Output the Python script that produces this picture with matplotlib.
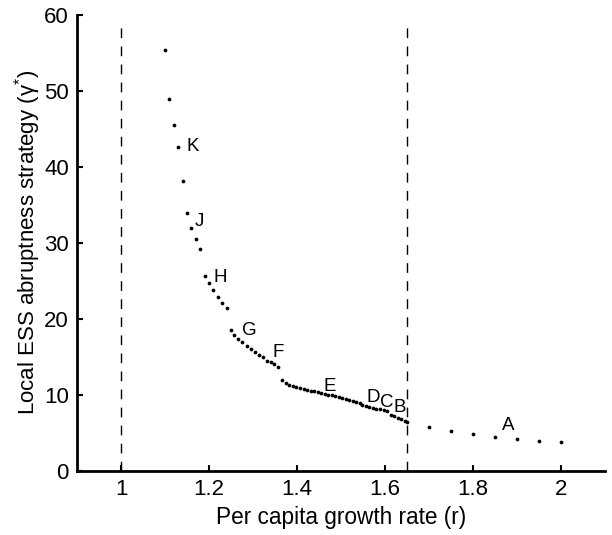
import matplotlib.pyplot as plt

plt.rcParams['font.family'] = ['Liberation Sans', 'DejaVu Sans']
plt.rcParams['mathtext.fontset'] = 'custom'
plt.rcParams['mathtext.rm'] = 'Liberation Sans'
plt.rcParams['mathtext.it'] = 'Liberation Sans'

## growth rate r and local ESS strategy
r = [1.10, 1.11, 1.12, 1.13, 1.14, 1.15, 1.16, 1.17, 1.18, 1.19, 1.20, 1.21, 1.22, 1.23, 1.24,
     1.249, 1.258, 1.267, 1.276, 1.286, 1.295, 1.305, 1.314, 1.323, 1.333, 1.340, 1.348, 1.356,
     1.367, 1.375, 1.383, 1.391, 1.399, 1.407, 1.415, 1.423, 1.431, 1.439, 1.447, 1.455, 1.463,
     1.471, 1.479, 1.487, 1.495, 1.503, 1.511, 1.519, 1.527, 1.535, 1.543,
     1.549, 1.557, 1.565, 1.573, 1.581, 1.589, 1.597, 1.605,
     1.613, 1.621, 1.629, 1.637, 1.645, 1.650,
     1.70, 1.75, 1.80, 1.85, 1.90, 1.95, 2.00]
gamma = [55.4, 48.9, 45.5, 42.6, 38.1, 33.9, 32.0, 30.5, 29.2, 25.7, 24.7, 23.8, 22.9, 22.1, 21.4,
         18.55, 17.9, 17.4, 16.9, 16.45, 16.05, 15.66, 15.3, 14.96, 14.5, 14.3, 14.0, 13.6,
         11.9, 11.55, 11.35, 11.2, 11.05, 10.9, 10.78, 10.66, 10.55, 10.44, 10.33, 10.22, 10.12,
         10.02, 9.92, 9.82, 9.72, 9.6, 9.48, 9.36, 9.22, 9.08, 8.95,
         8.6, 8.5, 8.4, 8.3, 8.2, 8.1, 8.0, 7.85,
         7.4, 7.2, 7.0, 6.8, 6.5, 6.36,
         5.7, 5.2, 4.87, 4.5, 4.2, 3.95, 3.77]

labels = ['K', 'J', 'H', 'G', 'F', 'E', 'D', 'C', 'B', 'A']
label_r = [1.148, 1.168, 1.211, 1.274, 1.345, 1.461, 1.559, 1.590, 1.620, 1.867]
label_g = [42.7, 32.8, 25.5, 18.5, 15.6, 11.1, 9.7, 9.0, 8.3, 5.9]

bounds = [1.0, 1.65]

fig = plt.figure(figsize=(6.12, 5.35), dpi=100)
ax = fig.add_axes([0.126, 0.12, 0.862, 0.852])

for b in bounds:
    ax.plot([b, b], [0, 58.7], color='k', lw=1, dashes=(7, 6))
ax.plot(r, gamma, 'o', color='k', ms=2.7, mec='none')

for lab, x, y in zip(labels, label_r, label_g):
    ax.text(x, y, lab, fontsize=13.5, ha='left', va='center')

ax.set_xlim(0.9, 2.1)
ax.set_ylim(0, 60)
ax.set_xticks([1, 1.2, 1.4, 1.6, 1.8, 2])
ax.set_xticklabels(['1', '1.2', '1.4', '1.6', '1.8', '2'])
ax.set_yticks([0, 10, 20, 30, 40, 50, 60])
ax.tick_params(direction='in', length=4, width=1.5, labelsize=16, pad=6)
ax.spines['top'].set_visible(False)
ax.spines['right'].set_visible(False)
ax.spines['left'].set_linewidth(2)
ax.spines['bottom'].set_linewidth(2)
ax.set_xlabel('Per capita growth rate (r)', fontsize=16.3, labelpad=4)
ax.set_ylabel('Local ESS abruptness strategy (γ$^{*}$)', fontsize=16, labelpad=1)

fig.savefig('out.png', dpi=100)
